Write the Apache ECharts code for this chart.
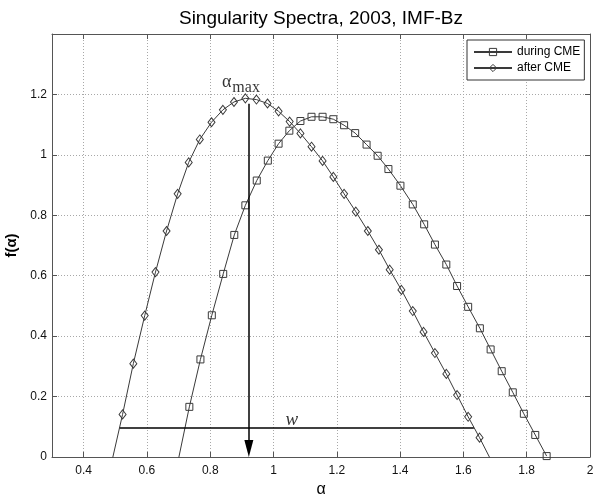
<!DOCTYPE html>
<html>
<head>
<meta charset="utf-8">
<script src="https://cdn.jsdelivr.net/npm/echarts@6/dist/echarts.min.js"></script>
<style>
  html, body { margin: 0; padding: 0; background: #fff; }
  #chart { width: 594px; height: 496px; }
</style>
</head>
<body>
<div id="chart"></div>
<script>
// singularity spectrum, during CME (squares)
const alphaDuring = [0.699, 0.734, 0.769, 0.805, 0.841, 0.876, 0.911, 0.947, 0.982, 1.016,
  1.050, 1.085, 1.120, 1.155, 1.189, 1.223, 1.258, 1.294, 1.329, 1.363,
  1.401, 1.440, 1.476, 1.510, 1.546, 1.580, 1.615, 1.652, 1.686, 1.721,
  1.756, 1.791, 1.827, 1.863];
const fDuring = [-0.01, 0.166, 0.323, 0.469, 0.606, 0.735, 0.833, 0.915, 0.981, 1.037,
  1.080, 1.112, 1.126, 1.126, 1.118, 1.098, 1.072, 1.034, 0.997, 0.953,
  0.898, 0.836, 0.770, 0.703, 0.637, 0.566, 0.497, 0.426, 0.356, 0.284,
  0.214, 0.143, 0.073, 0.003];

// after CME (diamonds)
const alphaAfter = [0.488, 0.523, 0.557, 0.593, 0.627, 0.662, 0.697, 0.732, 0.767, 0.804,
  0.840, 0.875, 0.911, 0.946, 0.981, 1.016, 1.051, 1.085, 1.120, 1.155,
  1.189, 1.223, 1.260, 1.298, 1.333, 1.367, 1.404, 1.440, 1.474, 1.510,
  1.546, 1.580, 1.615, 1.651, 1.686];
const fAfter = [-0.02, 0.141, 0.309, 0.468, 0.612, 0.748, 0.871, 0.975, 1.051, 1.108,
  1.149, 1.175, 1.187, 1.183, 1.170, 1.144, 1.110, 1.071, 1.027, 0.980,
  0.927, 0.871, 0.812, 0.748, 0.686, 0.620, 0.553, 0.483, 0.414, 0.344,
  0.275, 0.205, 0.133, 0.064, -0.008];

const xTicks = [0.4, 0.6, 0.8, 1, 1.2, 1.4, 1.6, 1.8, 2];
const yTicks = [0, 0.2, 0.4, 0.6, 0.8, 1, 1.2];

// annotations: alpha_max arrow and width w
const alphaMax = 0.922;
const arrowTop = 1.169;
const arrowTip = 0.028;   // centre of the arrow head, tip sits on f = 0
const wLevel = 0.096;
const wRange = [0.514, 1.633];
const alphaMaxLabelPos = [0.897, 1.232];
const wLabelPos = [1.058, 0.122];

const zip = (xs, ys) => xs.map((x, i) => [x, ys[i]]);

const lineCol = '#3a3a3a';
const frameCol = '#555';
const gridL = 52, gridR = 4;

const chart = echarts.init(document.getElementById('chart'), null, { renderer: 'canvas' });

const xBase = {
  type: 'value', min: 0.3, max: 2,
  axisLine: { show: true, onZero: false, lineStyle: { color: frameCol, width: 1 } },
  axisTick: { show: true, inside: true, length: 5, customValues: xTicks, lineStyle: { color: frameCol } }
};
const yBase = {
  type: 'value', min: 0, max: 1.4,
  axisLine: { show: true, onZero: false, lineStyle: { color: frameCol, width: 1 } },
  axisTick: { show: true, inside: true, length: 5, customValues: yTicks, lineStyle: { color: frameCol } }
};

chart.setOption({
  animation: false,
  backgroundColor: '#fff',
  graphic: [{
    type: 'text',
    x: gridL + (594 - gridL - gridR) / 2,
    y: 19,
    style: {
      text: 'Singularity Spectra, 2003, IMF-Bz',
      fontFamily: 'Liberation Sans', fontSize: 19, fill: '#000',
      align: 'center', verticalAlign: 'middle'
    }
  }],
  legend: {
    data: ['during CME', 'after CME'],
    orient: 'vertical',
    left: 467,
    top: 40,
    itemWidth: 38,
    itemHeight: 9,
    itemGap: 4,
    padding: [6, 4, 6, 6],
    backgroundColor: '#fff',
    borderColor: '#333',
    borderWidth: 1,
    borderRadius: 0,
    itemStyle: { color: 'rgba(255,255,255,0)', borderColor: lineCol, borderWidth: 1 },
    textStyle: { fontFamily: 'Liberation Sans', fontSize: 12, color: '#000' }
  },
  grid: { left: gridL, right: gridR, top: 34, bottom: 39, containLabel: false, outerBoundsMode: 'none' },
  xAxis: [
    Object.assign({}, xBase, {
      position: 'bottom',
      name: 'α',
      nameLocation: 'middle',
      nameGap: 24,
      nameTextStyle: { fontFamily: 'Liberation Sans', fontSize: 16, color: '#000' },
      axisLabel: { customValues: xTicks, margin: 8, fontFamily: 'Liberation Sans', fontSize: 12, color: '#111' },
      splitLine: { show: true, lineStyle: { color: '#a8a8a8', type: [1, 2], width: 1 } }
    }),
    Object.assign({}, xBase, {
      position: 'top',
      axisLabel: { show: false },
      splitLine: { show: false }
    })
  ],
  yAxis: [
    Object.assign({}, yBase, {
      position: 'left',
      name: 'f(α)',
      nameLocation: 'middle',
      nameRotate: 90,
      nameGap: 33,
      nameTextStyle: { fontFamily: 'Liberation Sans', fontSize: 15, fontWeight: 'bold', color: '#000' },
      axisLabel: { customValues: yTicks, margin: 5, fontFamily: 'Liberation Sans', fontSize: 12, color: '#111' },
      splitLine: { show: true, lineStyle: { color: '#a8a8a8', type: [1, 2], width: 1 } }
    }),
    Object.assign({}, yBase, {
      position: 'right',
      axisLabel: { show: false },
      splitLine: { show: false }
    })
  ],
  series: [
    {
      name: 'during CME',
      type: 'line',
      data: zip(alphaDuring, fDuring),
      symbol: 'rect',
      symbolSize: 7,
      showAllSymbol: true,
      clip: true,
      lineStyle: { color: lineCol, width: 1 },
      itemStyle: { color: 'rgba(255,255,255,0)', borderColor: lineCol, borderWidth: 1 },
      emphasis: { disabled: true },
      z: 3
    },
    {
      name: 'after CME',
      type: 'line',
      data: zip(alphaAfter, fAfter),
      symbol: 'diamond',
      symbolSize: [7, 9],
      showAllSymbol: true,
      clip: true,
      lineStyle: { color: lineCol, width: 1 },
      itemStyle: { color: 'rgba(255,255,255,0)', borderColor: lineCol, borderWidth: 1 },
      emphasis: { disabled: true },
      markLine: {
        silent: true,
        animation: false,
        label: { show: false },
        lineStyle: { color: '#000', width: 1.5, type: 'solid' },
        data: [
          [
            { coord: [alphaMax, arrowTop], symbol: 'none' },
            { coord: [alphaMax, arrowTip], symbol: 'triangle', symbolSize: [9, 17] }
          ],
          [
            { coord: [wRange[0], wLevel], symbol: 'none' },
            { coord: [wRange[1], wLevel], symbol: 'none' }
          ]
        ],
        itemStyle: { color: '#000' }
      },
      z: 3
    },
    {
      name: 'labels',
      type: 'scatter',
      symbolSize: 0,
      silent: true,
      data: [
        { value: alphaMaxLabelPos, label: { formatter: '{a|α}{m|max}' } },
        { value: wLabelPos, label: { formatter: '{w|w}' } }
      ],
      label: {
        show: true,
        position: 'inside',
        color: '#000',
        rich: {
          a: { fontFamily: 'Liberation Serif', fontSize: 18, color: '#000', padding: [0, 1, 4, 0] },
          m: { fontFamily: 'Liberation Serif', fontSize: 16, color: '#000', padding: [6, 0, 0, 0] },
          w: { fontFamily: 'Liberation Serif', fontStyle: 'italic', fontSize: 19, color: '#000' }
        }
      },
      z: 5
    }
  ]
});
</script>
</body>
</html>
